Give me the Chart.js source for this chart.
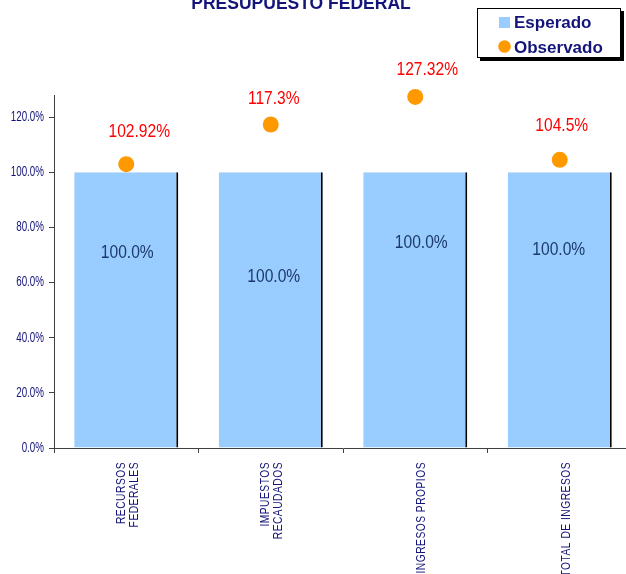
<!DOCTYPE html>
<html><head><meta charset="utf-8">
<script src="https://cdn.jsdelivr.net/npm/chart.js@4"></script>
<style>
html,body{margin:0;padding:0;background:#fff;overflow:hidden}
#wrap{position:relative;width:626px;height:574px;overflow:hidden;background:#fff}
canvas{position:absolute;left:0;top:0}
</style></head>
<body><div id="wrap"><canvas id="c" width="640" height="574"></canvas></div>
<script>
// ---- data ----
const categories = [['RECURSOS','FEDERALES'], ['IMPUESTOS','RECAUDADOS'], 'INGRESOS PROPIOS', 'TOTAL DE INGRESOS'];
const esperado = [100, 100, 100, 100];
const observado = [102.92, 117.3, 127.32, 104.5];
const yTicks = [0, 20, 40, 60, 80, 100, 120];
const seriesNames = ['Esperado', 'Observado'];
const chartTitle = 'PRESUPUESTO FEDERAL';

// ---- styles / label placement ----
const NAVY = '#14147a';
const SANS = '"Liberation Sans", Arial, sans-serif';
const NARROW_SCALE = 0.82;   // emulate Arial Narrow
const barLabelDx = [1, 3, 6, -1];
const barLabelDy = [81, 105, 71, 78];
const obsLabelDx = [13, 3, 12, 2];
const obsLabelDy = [-32, -26, -27, -34];

function narrowText(ctx, text, x, y) {
  ctx.save();
  ctx.translate(x, y);
  ctx.scale(NARROW_SCALE, 1);
  ctx.fillText(text, 0, 0);
  ctx.restore();
}

const labelPlugin = {
  id: 'labelPlugin',
  beforeDraw(chart) {
    const ys = chart.scales.y;
    if (ys && !ys._narrowWrapped) {
      const orig = ys.drawLabels.bind(ys);
      ys._computeLabelArea = () => undefined;
      ys.drawLabels = function (area) {
        const ctx = this.ctx;
        const ax = this.right - 10;
        ctx.save();
        ctx.translate(ax, 0);
        ctx.scale(0.7, 1);
        ctx.translate(-ax, 0);
        orig(area);
        ctx.restore();
      };
      ys._narrowWrapped = true;
    }
    const xs = chart.scales.x;
    if (xs && !xs._narrowWrapped) {
      const origX = xs.drawLabels.bind(xs);
      xs._computeLabelArea = () => undefined;
      xs.drawLabels = function (area) {
        const ctx = this.ctx;
        const ay = this.top + 14;
        ctx.save();
        ctx.translate(0, ay);
        ctx.scale(1, NARROW_SCALE);
        ctx.translate(0, -ay);
        ctx.letterSpacing = '0.6px';
        origX(area);
        ctx.restore();
      };
      xs._narrowWrapped = true;
    }
  },
  afterDatasetsDraw(chart) {
    const ctx = chart.ctx;
    ctx.save();
    ctx.font = '19px ' + SANS;
    ctx.textAlign = 'center';
    ctx.textBaseline = 'middle';
    chart.getDatasetMeta(0).data.forEach((el, i) => {
      ctx.fillStyle = '#1b3a6b';
      narrowText(ctx, esperado[i].toFixed(1) + '%', el.x + barLabelDx[i], el.y + barLabelDy[i]);
    });
    chart.getDatasetMeta(1).data.forEach((el, i) => {
      ctx.fillStyle = '#ff0000';
      narrowText(ctx, observado[i] + '%', el.x + obsLabelDx[i], el.y + obsLabelDy[i]);
    });
    ctx.restore();
  },
  afterDraw(chart) {
    const ctx = chart.ctx;
    ctx.save();
    ctx.fillStyle = NAVY;
    ctx.font = 'bold 17.5px ' + SANS;
    ctx.textAlign = 'center';
    ctx.textBaseline = 'alphabetic';
    ctx.fillText(chartTitle, 301, 9);
    ctx.fillStyle = '#000';
    ctx.fillRect(480, 11, 144, 50);
    ctx.fillStyle = '#fff';
    ctx.fillRect(477, 8, 144, 50);
    ctx.strokeStyle = '#000';
    ctx.lineWidth = 1;
    ctx.strokeRect(477.5, 8.5, 143, 49);
    ctx.fillStyle = '#99ccff';
    ctx.fillRect(499, 17, 11, 11);
    ctx.fillStyle = '#ff9900';
    ctx.beginPath(); ctx.arc(504.5, 46.5, 6.3, 0, Math.PI * 2); ctx.fill();
    ctx.fillStyle = NAVY;
    ctx.font = 'bold 17px ' + SANS;
    ctx.textAlign = 'left';
    ctx.fillText(seriesNames[0], 514, 28);
    ctx.fillText(seriesNames[1], 514, 52.5);
    ctx.restore();
  }
};

const isMultiLine = i => Array.isArray(categories[i]);

new Chart(document.getElementById('c'), {
  data: {
    labels: categories,
    datasets: [
      {
        type: 'bar', label: seriesNames[0], data: esperado,
        backgroundColor: '#99ccff', borderColor: '#000',
        borderWidth: {top: 0, right: 2, bottom: 0, left: 0},
        barPercentage: 0.72, categoryPercentage: 1, order: 2
      },
      {
        type: 'line', label: seriesNames[1], data: observado,
        showLine: false, pointRadius: 8, pointHoverRadius: 8, clip: false,
        pointBackgroundColor: '#ff9900', pointBorderWidth: 0, borderColor: '#ff9900',
        order: 1
      }
    ]
  },
  options: {
    responsive: false, animation: false, devicePixelRatio: 1,
    layout: {padding: {top: 95, right: 3, left: 0, bottom: 0}},
    plugins: {legend: {display: false}, tooltip: {enabled: false}, title: {display: false}},
    scales: {
      x: {
        offset: true,
        grid: {offset: true, drawOnChartArea: false, tickLength: 5, color: '#404040'},
        border: {color: '#404040', width: 1},
        ticks: {
          color: NAVY, autoSkip: false, minRotation: 90, maxRotation: 90, padding: 9,
          labelOffset: -5,
          callback(v, i) { const l = categories[i]; return Array.isArray(l) ? l : ['', l]; },
          font: ctx => ({family: SANS, size: 12.5, lineHeight: isMultiLine(ctx.index) ? 1.05 : 0.94})
        },
        afterFit(s) { s.height = 126; }
      },
      y: {
        min: 0, max: 128,
        afterBuildTicks(s) { s.ticks = yTicks.map(v => ({value: v})); },
        ticks: {
          color: NAVY, padding: 5,
          font: {family: SANS, size: 14},
          callback: v => v.toFixed(1) + '%'
        },
        grid: {drawOnChartArea: false, tickLength: 5, color: '#404040'},
        border: {color: '#404040', width: 1},
        afterFit(s) { s.width = 54; }
      }
    }
  },
  plugins: [labelPlugin]
});
</script>
</body></html>
